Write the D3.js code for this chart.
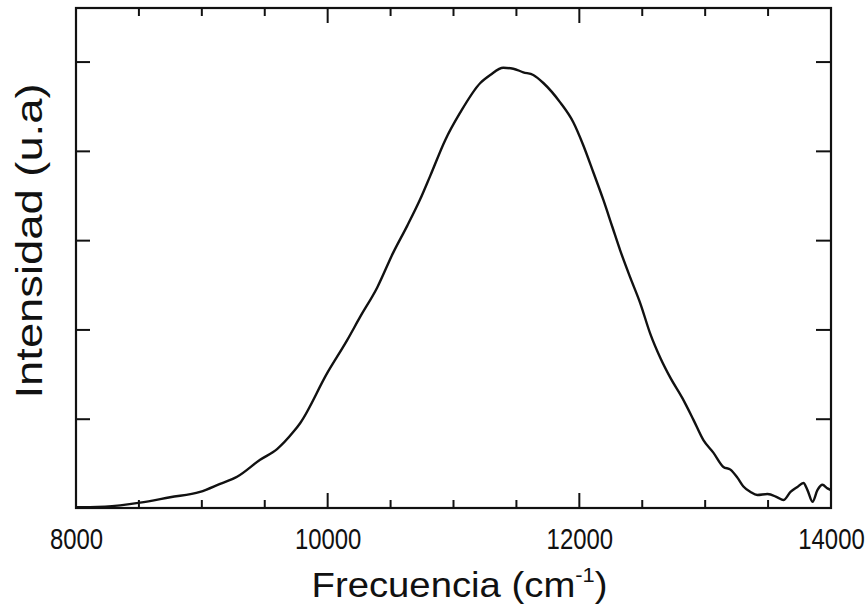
<!DOCTYPE html>
<html>
<head>
<meta charset="utf-8">
<script src="https://cdn.jsdelivr.net/npm/d3@7"></script>
<style>
	body { margin: 0; background: #fff; }
	text { font-family: "Liberation Sans", Arial, Helvetica, sans-serif; fill: #111; }
</style>
</head>
<body>
<div id="chart"></div>
<script>
// spectrum (frequency in cm-1, intensity in arbitrary units)
var freq = [8000, 8111, 8231, 8509, 8748, 8986, 9145, 9280, 9463, 9598, 9726, 9781,
	9996, 10155, 10258, 10394, 10521, 10632, 10736, 10815, 10934, 11054, 11213, 11292,
	11396, 11475, 11555, 11634, 11714, 11849, 11952, 12032, 12111, 12191, 12262, 12326,
	12405, 12485, 12564, 12644, 12723, 12819, 12906, 12986, 13065, 13145, 13201, 13256,
	13304, 13360, 13415, 13495, 13574, 13622, 13678, 13733, 13781, 13813, 13853, 13892,
	13932, 13972, 14000];
var intensity = [0.01, 0.01, 0.015, 0.06, 0.12, 0.18, 0.27, 0.35, 0.54, 0.66, 0.85, 0.95,
	1.51, 1.88, 2.14, 2.47, 2.86, 3.16, 3.46, 3.72, 4.12, 4.43, 4.76, 4.85,
	4.93, 4.92, 4.88, 4.85, 4.76, 4.54, 4.32, 4.06, 3.76, 3.45, 3.15, 2.88,
	2.58, 2.29, 1.95, 1.68, 1.46, 1.23, 0.99, 0.76, 0.62, 0.46, 0.43, 0.34,
	0.24, 0.18, 0.146, 0.157, 0.12, 0.09, 0.18, 0.235, 0.28, 0.2, 0.07, 0.2,
	0.26, 0.22, 0.2];

var majorTicks = [8000, 10000, 12000, 14000];
var minorTicks = [8500, 9000, 9500, 10500, 11000, 11500, 12500, 13000, 13500];
var yTicks = [1, 2, 3, 4, 5];

var width = 868;
var height = 613;
var margin = {top: 8, right: 37, bottom: 105, left: 76};

var svg = d3.select("#chart")
	.append("svg")
	.attr("width", width)
	.attr("height", height);

var x = d3.scaleLinear()
	.domain([8000, 14000])
	.range([margin.left, width - margin.right]);
var y = d3.scaleLinear()
	.domain([0, 5.6])
	.range([height - margin.bottom, margin.top]);

var x0 = x.range()[0], x1 = x.range()[1];
var y0 = y.range()[0], y1 = y.range()[1];

function styleAxis(g) {
	g.select(".domain").remove();
	g.selectAll(".tick line").attr("stroke", "#111").attr("stroke-width", 2);
}

// inward x ticks on bottom and top edges, drawn from the x scale
var xTickData = [];
minorTicks.forEach(function(v) { xTickData.push({v: v, len: 8}); });
majorTicks.slice(1, 3).forEach(function(v) { xTickData.push({v: v, len: 15}); });

[y0, y1].forEach(function(edge) {
	var dir = edge === y0 ? -1 : 1;
	svg.append("g")
		.selectAll("line")
		.data(xTickData)
		.join("line")
		.attr("x1", function(d) { return x(d.v); })
		.attr("x2", function(d) { return x(d.v); })
		.attr("y1", edge)
		.attr("y2", function(d) { return edge + dir * d.len; })
		.attr("stroke", "#111")
		.attr("stroke-width", 2);
});

svg.append("g")
	.attr("transform", "translate(0," + y0 + ")")
	.call(d3.axisBottom(x).tickValues(majorTicks).tickSize(0).tickPadding(0).tickFormat(d3.format("d")))
	.call(function(g) { g.select(".domain").remove(); })
	.selectAll(".tick text")
	.attr("y", 41)
	.attr("dy", null)
	.attr("font-size", 30)
	.attr("textLength", function(d) { return String(d).length * 13.3; })
	.attr("lengthAdjust", "spacingAndGlyphs")
	.style("font-family", "'Liberation Sans', Arial, sans-serif")
	.attr("fill", "#111");

svg.append("g")
	.attr("transform", "translate(" + x0 + ",0)")
	.call(d3.axisRight(y).tickValues(yTicks).tickSize(14).tickFormat(""))
	.call(styleAxis);

svg.append("g")
	.attr("transform", "translate(" + x1 + ",0)")
	.call(d3.axisLeft(y).tickValues(yTicks).tickSize(15).tickFormat(""))
	.call(styleAxis);

// frame
svg.append("rect")
	.attr("x", x0)
	.attr("y", y1)
	.attr("width", x1 - x0)
	.attr("height", y0 - y1)
	.attr("fill", "none")
	.attr("stroke", "#111")
	.attr("stroke-width", 2.2);

var line = d3.line()
	.x(function(d, i) { return x(freq[i]); })
	.y(function(d) { return y(d); })
	.curve(d3.curveMonotoneX);

svg.append("path")
	.datum(intensity)
	.attr("fill", "none")
	.attr("stroke", "#111")
	.attr("stroke-width", 2.4)
	.attr("stroke-linejoin", "round")
	.attr("d", line);

// axis titles
var xlab = svg.append("text")
	.attr("x", (x0 + x1) / 2 + 6)
	.attr("y", 597)
	.attr("text-anchor", "middle")
	.attr("font-size", 35)
	.attr("textLength", 296)
	.attr("lengthAdjust", "spacingAndGlyphs");
xlab.append("tspan").text("Frecuencia (cm");
xlab.append("tspan").attr("font-size", 20).attr("dy", -15).text("-1");
xlab.append("tspan").attr("dy", 15).text(")");

svg.append("text")
	.attr("transform", "translate(42,241) rotate(-90)")
	.attr("text-anchor", "middle")
	.attr("font-size", 36)
	.attr("textLength", 315)
	.attr("lengthAdjust", "spacingAndGlyphs")
	.text("Intensidad (u.a)");
</script>
</body>
</html>
